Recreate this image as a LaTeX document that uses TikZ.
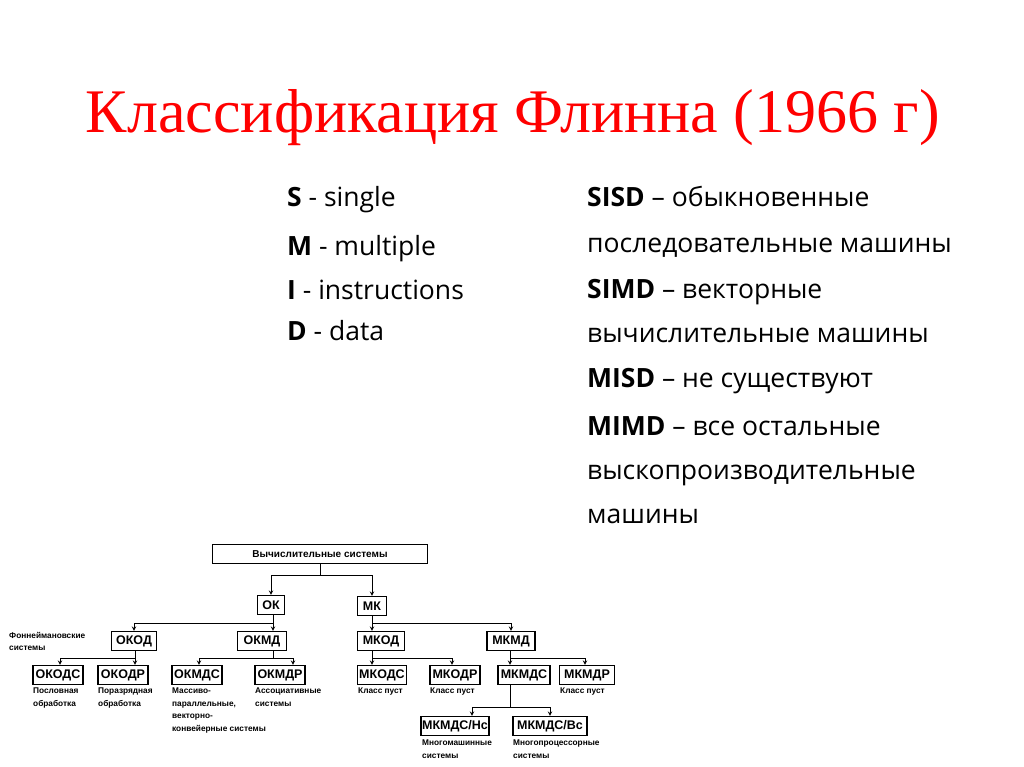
\documentclass[tikz,border=0pt]{standalone}
\usepackage{fontspec}
\setmainfont{Liberation Serif}
\newfontfamily\osans{Open Sans}
\newfontfamily\tsans{Liberation Sans}
\begin{document}
\begin{tikzpicture}[x=1pt,y=-1pt,
  bx/.style={draw,line width=1.2pt,font=\tsans\bfseries\fontsize{12.5}{12}\selectfont,inner sep=1pt,minimum height=19pt},
  lbl/.style={font=\tsans\bfseries\fontsize{8.3}{12.5}\selectfont,align=left,anchor=north west,inner sep=0pt},
  ln/.style={line width=1pt},
  ar/.style={line width=1pt,-stealth},
  txt/.style={font=\osans\fontsize{26.5}{26}\selectfont,anchor=base west,inner sep=0pt}]
\useasboundingbox (0,0) rectangle (1024,767);
\node[text=red,font=\fontsize{62}{62}\selectfont] (title) at (513,118) {Классификация Флинна (1966 г)};
\node[txt] (s) at (287,207) {\textbf{S} - single};
\node[txt] (m) at (287,255) {\textbf{M} - multiple};
\node[txt] (i) at (287,299) {\textbf{I} - instructions};
\node[txt] (d) at (287,340) {\textbf{D} - data};
\node[txt] (r1) at (587,207) {\textbf{SISD} – обыкновенные};
\node[txt] (r2) at (587,252) {последовательные машины};
\node[txt] (r3) at (587,298) {\textbf{SIMD} – векторные};
\node[txt] (r4) at (587,342) {вычислительные машины};
\node[txt] (r5) at (587,387) {\textbf{MISD} – не существуют};
\node[txt] (r6) at (587,435) {\textbf{MIMD} – все остальные};
\node[txt] (r7) at (587,479) {выскопроизводительные};
\node[txt] (r8) at (587,523) {машины};
% tree
\node[bx,minimum width=215pt,font=\tsans\bfseries\fontsize{10}{10}\selectfont] (vs) at (320,554) {Вычислительные системы};
\node[bx,minimum width=27pt] (ok) at (271,605) {ОК};
\node[bx,minimum width=29pt] (mk) at (372,606) {МК};
\node[bx,minimum width=45pt] (okod) at (134,641) {ОКОД};
\node[bx,minimum width=49pt] (okmd) at (262,641) {ОКМД};
\node[bx,minimum width=47pt] (mkod) at (381,641) {МКОД};
\node[bx,minimum width=48pt] (mkmd) at (511,641) {МКМД};
\node[bx,minimum width=50pt] (okods) at (58,675) {ОКОДС};
\node[bx,minimum width=50pt] (okodr) at (123,675) {ОКОДР};
\node[bx,minimum width=50pt] (okmds) at (197,675) {ОКМДС};
\node[bx,minimum width=50pt] (okmdr) at (280,675) {ОКМДР};
\node[bx,minimum width=49pt] (mkods) at (382,675) {МКОДС};
\node[bx,minimum width=50pt] (mkodr) at (455,675) {МКОДР};
\node[bx,minimum width=52pt] (mkmds) at (524,675) {МКМДС};
\node[bx,minimum width=55pt] (mkmdr) at (587,675) {МКМДР};
\node[bx,minimum width=65pt] (nc) at (455,726) {МКМДС/Нс};
\node[bx,minimum width=74pt] (vc) at (550,726) {МКМДС/Вс};
\coordinate (c0) at (320,575);
\draw[ln] (vs.south) -- (c0);
\draw[ar] (c0) -| (ok.north);
\draw[ar] (c0) -| (mk.north);
\coordinate (c1) at (273,623);
\draw[ln] (ok.south -| c1) -- (c1);
\draw[ar] (c1) -| (okod.north);
\draw[ar] (c1) -- (okmd.north -| c1);
\coordinate (c2) at (372,623);
\draw[ln] (mk.south) -- (c2);
\draw[ar] (c2) -- (mkod.north -| c2);
\draw[ar] (c2) -| (mkmd.north);
\coordinate (c3) at (135,658);
\draw[ln] (okod.south -| c3) -- (c3);
\draw[ar] (c3) -| (okods.north -| 60,0);
\draw[ar] (c3) -- (okodr.north -| c3);
\coordinate (c4) at (273,658);
\draw[ln] (okmd.south -| c4) -- (c4);
\draw[ar] (c4) -| (okmds.north -| 199,0);
\draw[ar] (c4) -| (okmdr.north -| 293,0);
\coordinate (c5) at (372,658);
\draw[ln] (mkod.south -| c5) -- (c5);
\draw[ar] (c5) -- (mkods.north -| c5);
\draw[ar] (c5) -| (mkodr.north -| 452,0);
\coordinate (c6) at (510,658);
\draw[ln] (mkmd.south -| c6) -- (c6);
\draw[ar] (c6) -- (mkmds.north -| c6);
\draw[ar] (c6) -| (mkmdr.north -| 585,0);
\coordinate (c7) at (510,707);
\draw[ln] (mkmds.south -| c7) -- (c7);
\draw[ar] (c7) -| (nc.north -| 472,0);
\draw[ar] (c7) -| (vc.north);
\node[lbl] (fn) at (9,632) {Фоннеймановские\\системы};
\node[lbl] (l1) at (33,688) {Пословная\\обработка};
\node[lbl] (l2) at (98,688) {Поразрядная\\обработка};
\node[lbl] (l3) at (172,688) {Массиво-\\параллельные,\\векторно-\\конвейерные системы};
\node[lbl] (l4) at (255,688) {Ассоциативные\\системы};
\node[lbl] (l5) at (358,688) {Класс пуст};
\node[lbl] (l6) at (430,688) {Класс пуст};
\node[lbl] (l7) at (560,688) {Класс пуст};
\node[lbl] (l8) at (422,740) {Многомашинные\\системы};
\node[lbl] (l9) at (513,740) {Многопроцессорные\\системы};
\end{tikzpicture}
\end{document}
